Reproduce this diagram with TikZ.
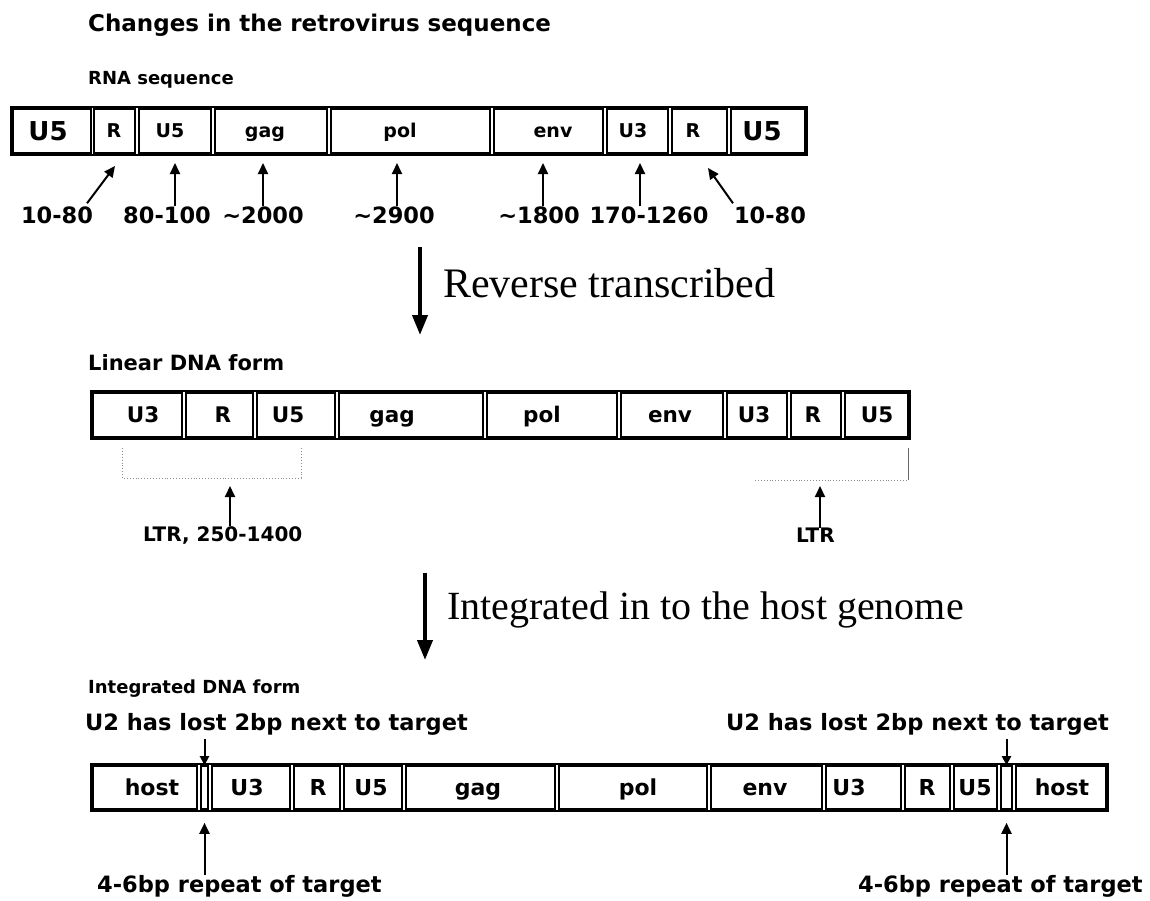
\documentclass[tikz,border=0pt]{standalone}
\usepackage{fontspec}
\setmainfont{DejaVu Sans}
\newfontfamily\tnr{Liberation Serif}
\usetikzlibrary{arrows.meta,fit}
% name, x1, x2, y1, y2, text style, text, text x
\newcommand\seg[8]{%
  \node[cell,minimum width={(#3)-(#2)},minimum height={(#5)-(#4)}] (#1) at ({((#2)+(#3))/2},{((#4)+(#5))/2}) {};
  \node[ctext,#6] (#1t) at (#8,{((#4)+(#5))/2}) {#7};}
\begin{document}
\begin{tikzpicture}[x=1pt,y=-1pt,
  head/.style={font=\bfseries\fontsize{22.5}{24}\selectfont, anchor=west, inner sep=0pt},
  num/.style={font=\bfseries\fontsize{22.5}{24}\selectfont, inner sep=0pt},
  cell/.style={draw, line width=1.6pt, inner sep=0pt},
  ctext/.style={inner sep=0pt, text height=13.9pt, text depth=0pt, font=\bfseries\fontsize{19}{21}\selectfont},
  mid/.style={text height=15.7pt, font=\bfseries\fontsize{21.5}{23}\selectfont},
  low/.style={text height=16pt, font=\bfseries\fontsize{22}{24}\selectfont},
  bigu/.style={text height=19pt, font=\bfseries\fontsize{26}{28}\selectfont},
  frame/.style={draw, line width=2.6pt, inner sep=1.2pt},
  uarr/.style={line width=2pt, -{Triangle[length=11pt,width=10pt]}},
  darr/.style={line width=2pt, -{Triangle[length=9pt,width=9pt]}},
  bigarr/.style={line width=4pt, -{Triangle[length=20pt,width=15pt]}},
  dots/.style={black!45, line width=0.9pt, dotted},
  serif/.style={font=\tnr\fontsize{40}{44}\selectfont, anchor=west, inner sep=0pt}
]
\useasboundingbox[fill=white] (0,0) rectangle (1150,900);

% ---------- headings ----------
\node[head, font=\bfseries\fontsize{23}{25}\selectfont] (title) at (88,25) {Changes in the retrovirus sequence};
\node[head, font=\bfseries\fontsize{18}{20}\selectfont] (rna) at (88,80) {RNA sequence};

% ---------- RNA row ----------
\seg{a1}{13}{91}{109}{153}{bigu}{U5}{48}
\seg{a2}{94}{135}{109}{153}{}{R}{114}
\seg{a3}{139}{211}{109}{153}{}{U5}{170}
\seg{a4}{215}{327}{109}{153}{}{gag}{265}
\seg{a5}{331}{490}{109}{153}{}{pol}{400}
\seg{a6}{494}{603}{109}{153}{}{env}{553}
\seg{a7}{607}{668}{109}{153}{}{U3}{633}
\seg{a8}{672}{727}{109}{153}{}{R}{693}
\seg{a9}{731}{805}{109}{153}{bigu}{U5}{762}
\node[frame, fit=(a1)(a9)] (rnaframe) {};

\node[num] (n1) at (57,215) {10-80};
\node[num] (n2) at (167,215) {80-100};
\node[num] (n3) at (263,215) {\textasciitilde2000};
\node[num] (n4) at (394,215) {\textasciitilde2900};
\node[num] (n5) at (539,215) {\textasciitilde1800};
\node[num] (n6) at (649,215) {170-1260};
\node[num] (n7) at (770,215) {10-80};

\coordinate (h1) at (115,166);
\coordinate (h2) at (175,163);
\coordinate (h3) at (263,163);
\coordinate (h4) at (397,163);
\coordinate (h5) at (543,163);
\coordinate (h6) at (640,163);
\coordinate (h7) at (708,168);
\draw[uarr] ([xshift=30pt,yshift=3pt]n1.north) -- (h1);
\draw[uarr] (n2.north -| h2) -- (h2);
\draw[uarr] (n3.north -| h3) -- (h3);
\draw[uarr] (n4.north -| h4) -- (h4);
\draw[uarr] (n5.north -| h5) -- (h5);
\draw[uarr] (n6.north -| h6) -- (h6);
\draw[uarr] ([xshift=-37pt,yshift=3pt]n7.north) -- (h7);

% ---------- reverse transcribed ----------
\node[serif, font=\tnr\fontsize{42}{46}\selectfont] (rt) at (443,283) {Reverse transcribed};
\coordinate (rta) at (420,247);
\coordinate (rtb) at (420,335);
\draw[bigarr] (rta) -- (rtb);

% ---------- linear DNA ----------
\node[head, font=\bfseries\fontsize{21}{23}\selectfont] (lin) at (88,363) {Linear DNA form};
\seg{b1}{93}{182}{393}{437}{mid}{U3}{143}
\seg{b2}{186}{253}{393}{437}{mid}{R}{223}
\seg{b3}{257}{335}{393}{437}{mid}{U5}{288}
\seg{b4}{339}{483}{393}{437}{mid}{gag}{392}
\seg{b5}{487}{617}{393}{437}{mid}{pol}{542}
\seg{b6}{621}{723}{393}{437}{mid}{env}{670}
\seg{b7}{727}{787}{393}{437}{mid}{U3}{754}
\seg{b8}{791}{841}{393}{437}{mid}{R}{813}
\seg{b9}{845}{908}{393}{437}{mid}{U5}{877}
\node[frame, fit=(b1)(b9)] (linframe) {};

\coordinate (bl1) at (122,448);
\coordinate (bl2) at (301,448);
\coordinate (br1) at (755,480);
\coordinate (br2) at (908,448);
\draw[dots] (bl1) -- (122,478) -- (301,478) -- (bl2);
\draw[dots] (br1) -- (908,480);
\draw[black!60, line width=0.9pt] (br2) -- (908,480);

\node[head, font=\bfseries\fontsize{20}{22}\selectfont] (ltr1) at (143,535) {LTR, 250-1400};
\node[head, font=\bfseries\fontsize{20}{22}\selectfont] (ltr2) at (796,535) {LTR};
\coordinate (lh1) at (230,486);
\coordinate (lh2) at (820,486);
\draw[uarr] (ltr1.north -| lh1) -- (lh1);
\draw[uarr] (ltr2.north -| lh2) -- (lh2);

% ---------- integrated ----------
\node[serif] (ig) at (447,610) {Integrated in to the host genome};
\coordinate (iga) at (425,573);
\coordinate (igb) at (425,660);
\draw[bigarr] (iga) -- (igb);

\node[head, font=\bfseries\fontsize{18}{20}\selectfont] (intd) at (88,689) {Integrated DNA form};
\node[head] (u2l) at (85,724) {U2 has lost 2bp next to target};
\node[head] (u2r) at (726,724) {U2 has lost 2bp next to target};

\seg{c1}{93}{197}{766}{809}{low}{host}{152}
\seg{c2}{201}{208}{766}{809}{}{}{204.5}
\seg{c3}{212}{290}{766}{809}{low}{U3}{247}
\seg{c4}{294}{340}{766}{809}{low}{R}{318}
\seg{c5}{344}{402}{766}{809}{low}{U5}{371}
\seg{c6}{406}{555}{766}{809}{low}{gag}{478}
\seg{c7}{559}{707}{766}{809}{low}{pol}{638}
\seg{c8}{711}{822}{766}{809}{low}{env}{765}
\seg{c9}{826}{901}{766}{809}{low}{U3}{849}
\seg{c10}{905}{950}{766}{809}{low}{R}{927}
\seg{c11}{954}{997}{766}{809}{low}{U5}{975}
\seg{c12}{1001}{1012}{766}{809}{}{}{1006.5}
\seg{c13}{1016}{1106}{766}{809}{low}{host}{1062}
\node[frame, fit=(c1)(c13)] (intframe) {};

\draw[darr] ([yshift=-4pt]u2l.south -| c2) -- (c2.north);
\draw[darr] ([yshift=-4pt]u2r.south -| c12) -- (c12.north);

\node[head] (rep1) at (97,886) {4-6bp repeat of target};
\node[head] (rep2) at (858,886) {4-6bp repeat of target};
\draw[uarr] (rep1.north -| c2) -- ([yshift=-13pt]c2.south);
\draw[uarr] (rep2.north -| c12) -- ([yshift=-13pt]c12.south);
\end{tikzpicture}
\end{document}
